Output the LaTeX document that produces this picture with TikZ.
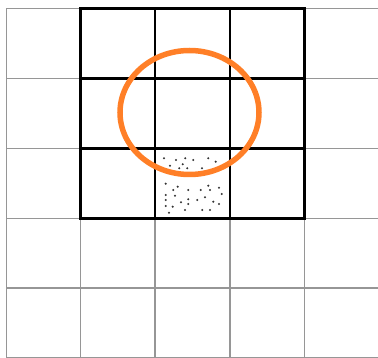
\documentclass[tikz,border=0pt]{standalone}
\definecolor{gridgray}{RGB}{150,150,150}
\definecolor{ringorange}{RGB}{255,127,39}
\tikzset{
  thin grid/.style={draw=gridgray, line width=1.4pt},
  thick grid/.style={draw=black, line width=2.8pt, line cap=rect},
  ring/.style={draw=ringorange, line width=5.5pt},
  stipple/.style={fill=black!80}
}
\begin{document}
\begin{tikzpicture}[x=1pt,y=-1pt]
\useasboundingbox (0,0) rectangle (378,358);
% thin grid
\foreach \x in {6.5,80.5,155,230,304.5}{\draw[thin grid] (\x,8.5) -- (\x,358);}
\foreach \y in {8.5,78.5,148.5,218.5,288,357.5}{\draw[thin grid] (6.5,\y) -- (378,\y);}
% thick block
\foreach \x in {80.5,155,230,304.5}{\draw[thick grid] (\x,8.5) -- (\x,218.5);}
\foreach \y in {8.5,78.5,148.5,218.5}{\draw[thick grid] (80.5,\y) -- (304.5,\y);}
% stipple
\foreach \p in {(164,158.3),(170,165.7),(176,160),(179.3,168.3),(182.7,164.3),(185.3,158.3),(187.3,168.3),(193.3,160),(202,168.3),(208.3,158.3),(215.7,161.7),
(165.7,183.7),(177.7,186.7),(173.3,190),(188.3,190),(200.7,190),(208.3,185.7),(219,187.7),(165.7,195),(175,195.7),(210,190),(221.7,194),
(165.7,200),(181,202.3),(188.3,199.3),(197.3,200),(205,197.3),(213.3,201.7),(219,204),(165.7,206),(172.7,206.7),(188.3,204),(169,212.7),(185,210),(202.3,210),(210,210)}
  {\fill[stipple] \p circle (1.15);}
% ring
\draw[ring] (189.5,112.5) ellipse [x radius=69.5, y radius=62];
\end{tikzpicture}
\end{document}
